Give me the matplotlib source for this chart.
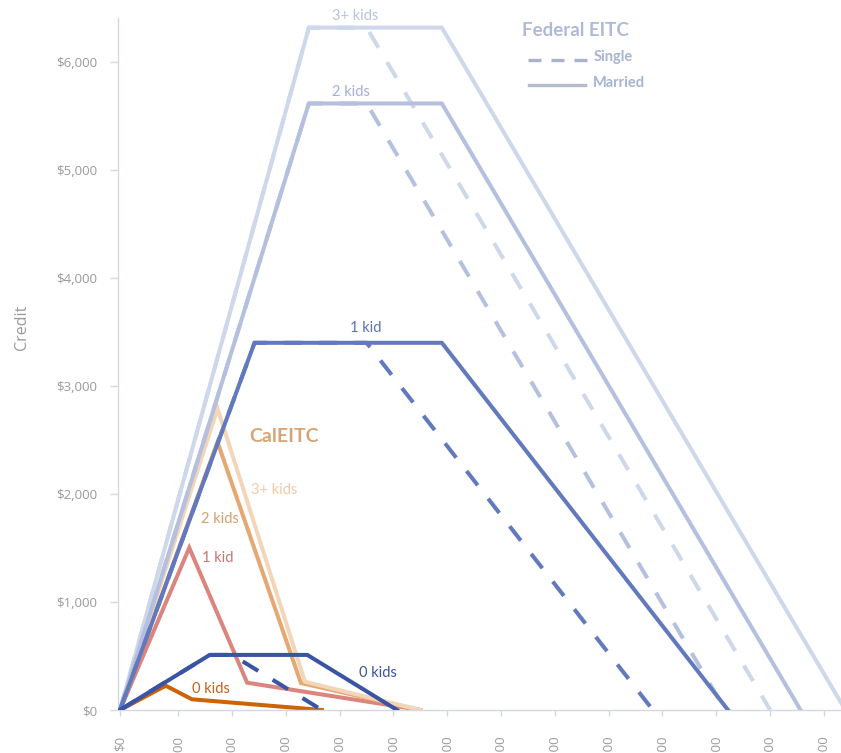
import matplotlib
matplotlib.use("Agg")
import matplotlib.pyplot as plt
from matplotlib.lines import Line2D

# Federal EITC (2017 parameters)
fed_kids = ["0 kids", "1 kid", "2 kids", "3+ kids"]
fed_phasein_end = [6670, 10000, 14040, 14040]
fed_max = [510, 3400, 5616, 6318]
fed_single_po_start = [8340, 18340, 18340, 18340]
fed_single_po_end = [15010, 39617, 45007, 48340]
fed_married_po_start = [13930, 23930, 23930, 23930]
fed_married_po_end = [20600, 45207, 50597, 53930]

# CalEITC
cal_kids = ["0 kids", "1 kid", "2 kids", "3+ kids"]
cal_peak_income = [3400, 5150, 7250, 7250]
cal_max = [225, 1502, 2481, 2791]
cal_knee_income = [5350, 9450, 13450, 13750]
cal_knee_credit = [99, 253, 250, 262]
cal_end_income = [15009, 22322, 22322, 22322]

y_ticks = [0, 1000, 2000, 3000, 4000, 5000, 6000]
x_tick_values = [0, 4000, 8000, 12000, 16000, 20000, 24000, 28000,
                 32000, 36000, 40000, 44000, 48000, 52000]

fed_colors = ["#3a54a5", "#627abd", "#b4c0de", "#cfd7ea"]
fed_label_colors = ["#3b54a2", "#5b72b6", "#a4b1d6", "#b9c3df"]
cal_colors = ["#cc6306", "#dc857e", "#e6a873", "#f3d5b8"]
cal_label_colors = ["#c4621e", "#c97670", "#d99f6a", "#efcba9"]

W, H = 841, 753
fig = plt.figure(figsize=(W / 100, H / 100), dpi=100)
ax = fig.add_axes([117.5 / W, 1 - 710 / H, (W - 117.5) / W, (710 - 18) / H])

lw = 2.9
dash = (4.5, 4.2)

# CalEITC lines (drawn below federal)
for i in range(4):
    xs = [0, cal_peak_income[i], cal_knee_income[i], cal_end_income[i]]
    ys = [0, cal_max[i], cal_knee_credit[i], 0]
    ax.plot(xs, ys, color=cal_colors[i], lw=lw, solid_joinstyle="miter",
            zorder=2 + i * 0.1)

# Federal lines: 3+ at bottom, 0 kids on top
for i in [3, 2, 1, 0]:
    z = 3 + (3 - i) * 0.2
    xs_s = [0, fed_phasein_end[i], fed_single_po_start[i], fed_single_po_end[i]]
    ys_s = [0, fed_max[i], fed_max[i], 0]
    ax.plot(xs_s, ys_s, color=fed_colors[i], lw=lw, dashes=dash, zorder=z)
    xs_m = [0, fed_phasein_end[i], fed_married_po_start[i], fed_married_po_end[i]]
    ys_m = [0, fed_max[i], fed_max[i], 0]
    ax.plot(xs_m, ys_m, color=fed_colors[i], lw=lw, solid_joinstyle="miter",
            zorder=z + 0.1)

lab_font = "Lato"
# federal labels
fed_label_pos = [(19145, 345), (18275, 3534), (17175, 5722), (17495, 6426)]
for i in range(4):
    ax.text(fed_label_pos[i][0], fed_label_pos[i][1], fed_kids[i],
            color=fed_label_colors[i], fontsize=10.5, family=lab_font,
            ha="center", va="center", clip_on=False, zorder=6)

# CalEITC labels
cal_label_pos = [(6751, 192), (7249, 1410), (7457, 1768), (11428, 2037)]
for i in range(4):
    ax.text(cal_label_pos[i][0], cal_label_pos[i][1], cal_kids[i],
            color=cal_label_colors[i], fontsize=10.5, family=lab_font,
            ha="center", va="center", zorder=6)
ax.text(12193, 2537, "CalEITC", color="#d9a474", fontsize=14, family=lab_font,
        fontweight="bold", ha="center", va="center", zorder=6)

# legend (Federal EITC)
def fx(x):
    return x / W

def fy(y):
    return 1 - y / H

fig.text(fx(522), fy(31), "Federal EITC", color="#b0b9d8", fontsize=13.5,
         family=lab_font, fontweight="bold", ha="left", va="center")
fig.add_artist(Line2D([fx(528), fx(587)], [fy(60), fy(60)], color="#a9b3cc",
                      lw=2.4, dashes=(3.9, 3.0)))
fig.add_artist(Line2D([fx(529), fx(585)], [fy(85), fy(85)], color="#b5bdcc",
                      lw=2.4))
fig.text(fx(594), fy(57), "Single", color="#a8b2d2", fontsize=10.5,
         family=lab_font, fontweight="bold", ha="left", va="center")
fig.text(fx(593), fy(83), "Married", color="#a8b2d2", fontsize=10.5,
         family=lab_font, fontweight="bold", ha="left", va="center")

# axes styling
k = 0.01345  # px per dollar
ax.set_xlim(-2.5 / k, (W - 120) / k)
ax.set_ylim(0, 692 / 0.108)
for s in ["top", "right"]:
    ax.spines[s].set_visible(False)
for s in ["left", "bottom"]:
    ax.spines[s].set_color("#d3d8e3")
    ax.spines[s].set_linewidth(1.0)

ax.set_yticks(y_ticks)
ax.set_yticklabels([f"${v:,}" for v in y_ticks])
# ticks sit a little right of the round values in the original
x_tick_pos = [0] + [v + 330 for v in x_tick_values[1:]]
ax.set_xticks(x_tick_pos)
ax.set_xticklabels([f"${v:,}" for v in x_tick_values], rotation=90, va="top")
ax.tick_params(axis="y", colors="#d3d8e3", labelcolor="#9a9a9a", length=6,
               width=1.0, pad=8.5, labelsize=9.5)
ax.tick_params(axis="x", colors="#d3d8e3", labelcolor="#9a9a9a", length=4.5,
               width=1.0, pad=14, labelsize=9.5)
for t in ax.get_xticklabels() + ax.get_yticklabels():
    t.set_family("Open Sans")

fig.text(fx(22), fy(327), "Credit", color="#9a9a9a", fontsize=11.5,
         family="Open Sans", rotation=90, ha="center", va="center")

fig.savefig("out.png", dpi=100)
